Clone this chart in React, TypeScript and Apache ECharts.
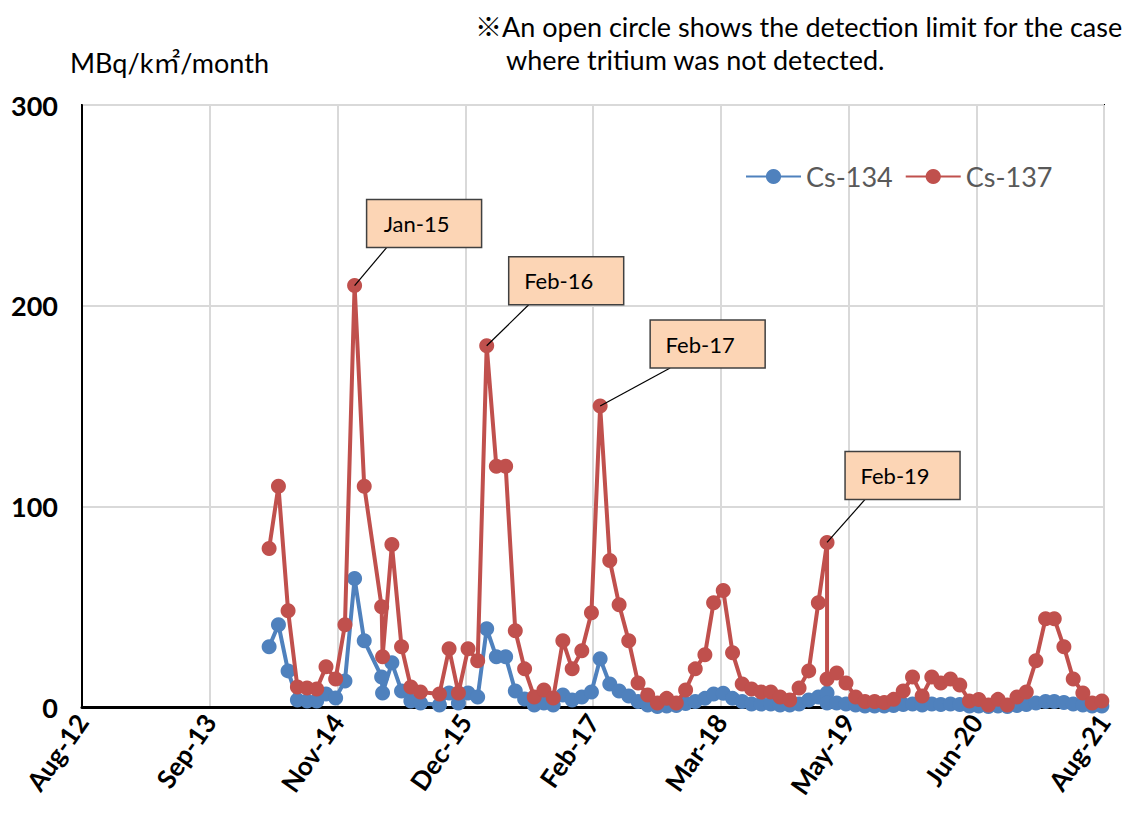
import React, { useEffect, useRef } from "react";
import * as echarts from "echarts";

// ---- data ----
const dates: string[] = [
  "2014-04-01", "2014-05-01", "2014-06-01", "2014-07-01", "2014-08-01", "2014-09-01",
  "2014-10-01", "2014-11-01", "2014-12-01", "2015-01-01", "2015-02-01", "2015-03-29",
  "2015-04-01", "2015-05-01", "2015-06-01", "2015-07-01", "2015-08-01", "2015-10-01",
  "2015-11-01", "2015-12-01", "2016-01-01", "2016-02-01", "2016-03-01", "2016-04-01",
  "2016-05-01", "2016-06-01", "2016-07-01", "2016-08-01", "2016-09-01", "2016-10-01",
  "2016-11-01", "2016-12-01", "2017-01-01", "2017-02-01", "2017-03-01", "2017-04-01",
  "2017-05-01", "2017-06-01", "2017-07-01", "2017-08-01", "2017-09-01", "2017-10-01",
  "2017-11-01", "2017-12-01", "2018-01-01", "2018-02-01", "2018-03-01", "2018-04-01",
  "2018-05-01", "2018-06-01", "2018-07-01", "2018-08-01", "2018-09-01", "2018-10-01",
  "2018-11-01", "2018-12-01", "2019-01-01", "2019-02-01", "2019-03-01", "2019-03-01",
  "2019-04-01", "2019-05-01", "2019-06-01", "2019-07-01", "2019-08-01", "2019-09-01",
  "2019-10-01", "2019-11-01", "2019-12-01", "2020-01-01", "2020-02-01", "2020-03-01",
  "2020-04-01", "2020-05-01", "2020-06-01", "2020-07-01", "2020-08-01", "2020-09-01",
  "2020-10-01", "2020-11-01", "2020-12-01", "2021-01-01", "2021-02-01", "2021-03-01",
  "2021-04-01", "2021-05-01", "2021-06-01", "2021-07-01", "2021-08-01",
];

const cs134: number[] = [
  30, 41, 18, 3.5, 3, 3,
  6.5, 4.5, 13, 64, 33, 15,
  7, 22, 8, 3, 2, 1,
  7, 2, 7, 5, 39, 25,
  25, 8, 4, 1, 2, 1,
  6, 3.5, 5, 7.5, 24, 11.5,
  8, 5.5, 2.7, 1, 0.3, 0.5,
  0.7, 1.8, 2.7, 4.3, 6.5, 6.8,
  4.3, 2.7, 1.5, 1.5, 1.5, 1,
  1, 1.5, 3.5, 5, 7, 2,
  2, 1.5, 1, 0.5, 0.5, 0.5,
  0.7, 1.2, 1.5, 1, 1.5, 1.2,
  1.5, 1.2, 0.5, 0.5, 0.3, 0.5,
  0.3, 0.8, 1.2, 2, 2.8, 2.8,
  2.2, 1.5, 1, 0.5, 0.5,
];

const cs137: number[] = [
  79, 110, 48, 10, 9.5, 9,
  20, 14, 41, 210, 110, 50,
  25, 81, 30, 10, 7.5, 6.5,
  29, 7, 29, 23, 180, 120,
  120, 38, 19, 5, 8.5, 4.5,
  33, 19, 28, 47, 150, 73,
  51, 33, 12, 6, 2, 4.3,
  2, 8.5, 19, 26, 52, 58,
  27, 11.5, 9, 7.5, 7.5, 5,
  3.5, 9.5, 18, 52, 82, 14,
  17, 12, 5, 2.7, 2.7, 2.2,
  3.8, 8, 15, 5.5, 15, 12,
  14, 11, 3, 3.7, 1, 3.8,
  1, 5, 7.5, 23, 44, 44,
  30, 14, 7, 2, 3,
];

const seriesNames: string[] = ["Cs-134", "Cs-137"];
const calloutLabels: string[] = ["Jan-15", "Feb-16", "Feb-17", "Feb-19"];
const calloutIndex: number[] = [9, 22, 34, 58];
const yTicks: number[] = [0, 100, 200, 300];
const unitText = "MBq/k㎡/month";
const noteLines: string[] = [
  "※An open circle shows the detection limit for the case",
  "where tritium was not detected.",
];

// ---- layout / style ----
const EPOCH = Date.UTC(2012, 7, 7);
const DAY = 86400000;
const X_SPAN = 3288;
const X_STEP = 411;
const MONTHS = ["Jan", "Feb", "Mar", "Apr", "May", "Jun", "Jul", "Aug", "Sep", "Oct", "Nov", "Dec"];
const FONT = "Lato, 'Noto Sans CJK JP', sans-serif";
const BLUE = "#4F81BD";
const RED = "#C0504D";
const calloutDx = [12, 22, 50, 18];
const calloutDy = [-86, -89, -86, -91];
const BOX_W = 115;
const BOX_H = 48;

function fmtDate(v: number): string {
  const d = new Date(EPOCH + v * DAY);
  return MONTHS[d.getUTCMonth()] + "-" + String(d.getUTCFullYear()).slice(2);
}

export default function App() {
  const ref = useRef<HTMLDivElement>(null);
  useEffect(() => {
    if (!ref.current) return;
    const chart = echarts.init(ref.current, null, { renderer: "svg" });
    const xs = dates.map((d) => (Date.parse(d + "T00:00:00Z") - EPOCH) / DAY);
    const d134 = xs.map((x, i) => [x, cs134[i]]);
    const d137 = xs.map((x, i) => [x, cs137[i]]);
    const titleStyle = { fontSize: 27, fontWeight: "normal", color: "#000", fontFamily: FONT };
    chart.setOption({
      animation: false,
      backgroundColor: "#fff",
      textStyle: { fontFamily: FONT },
      title: [
        { text: unitText, left: 70, top: 49, padding: 0, textStyle: titleStyle },
        { text: noteLines[0], left: 475, top: 13, padding: 0, textStyle: titleStyle },
        { text: noteLines[1], left: 506, top: 46, padding: 0, textStyle: titleStyle },
      ],
      grid: { left: 82, right: 31, top: 105, bottom: 117, show: true, borderColor: "#000", borderWidth: 2, containLabel: false },
      legend: {
        left: 745,
        top: 163,
        padding: 0,
        itemWidth: 55,
        itemHeight: 19,
        itemGap: 12,
        data: seriesNames,
        textStyle: { fontSize: 27, color: "#595959", fontFamily: FONT },
      },
      xAxis: {
        type: "value",
        min: 0,
        max: X_SPAN,
        interval: X_STEP,
        axisLine: { show: true, onZero: false, lineStyle: { color: "#000", width: 3 } },
        axisTick: { show: false },
        splitLine: { show: true, lineStyle: { color: "#D9D9D9", width: 2 } },
        axisLabel: {
          rotate: 55,
          fontSize: 26,
          fontWeight: "bold",
          color: "#000",
          margin: 10,
          fontFamily: FONT,
          showMinLabel: true,
          showMaxLabel: true,
          formatter: fmtDate,
        },
      },
      yAxis: {
        type: "value",
        min: yTicks[0],
        max: yTicks[yTicks.length - 1],
        interval: yTicks[1] - yTicks[0],
        axisLine: { show: true, lineStyle: { color: "#000", width: 2 } },
        axisTick: { show: false },
        splitLine: { show: true, lineStyle: { color: "#D9D9D9", width: 2 } },
        axisLabel: { fontSize: 27, fontWeight: "bold", color: "#000", margin: 24, fontFamily: FONT },
      },
      series: [
        {
          name: seriesNames[0],
          type: "line",
          data: d134,
          symbol: "circle",
          symbolSize: 15,
          showAllSymbol: true,
          lineStyle: { width: 4, color: BLUE },
          itemStyle: { color: BLUE },
          z: 2,
        },
        {
          name: seriesNames[1],
          type: "line",
          data: d137,
          symbol: "circle",
          symbolSize: 15,
          showAllSymbol: true,
          lineStyle: { width: 4, color: RED },
          itemStyle: { color: RED },
          z: 3,
        },
      ],
    });

    const graphics: any[] = [];
    calloutIndex.forEach((idx, k) => {
      const p = chart.convertToPixel({ gridIndex: 0 }, [xs[idx], cs137[idx]]) as number[];
      const bx = p[0] + calloutDx[k];
      const by = p[1] + calloutDy[k];
      graphics.push({
        type: "line",
        shape: { x1: bx + 20, y1: by + BOX_H, x2: p[0], y2: p[1] },
        style: { stroke: "#000", lineWidth: 1.2 },
        z: 100,
      });
      graphics.push({
        type: "rect",
        shape: { x: bx, y: by, width: BOX_W, height: BOX_H },
        style: { fill: "#FCD5B5", stroke: "#404040", lineWidth: 1.5 },
        z: 100,
      });
      graphics.push({
        type: "text",
        x: bx + 50,
        y: by + BOX_H / 2,
        style: {
          text: calloutLabels[k],
          fontSize: 22,
          fontFamily: FONT,
          fill: "#000",
          align: "center",
          verticalAlign: "middle",
        },
        z: 101,
      });
    });
    chart.setOption({ graphic: graphics });

    return () => chart.dispose();
  }, []);
  return (
    <div
      ref={ref}
      style={{ position: "fixed", left: 0, top: 0, width: 1135, height: 824, background: "#fff" }}
    />
  );
}
